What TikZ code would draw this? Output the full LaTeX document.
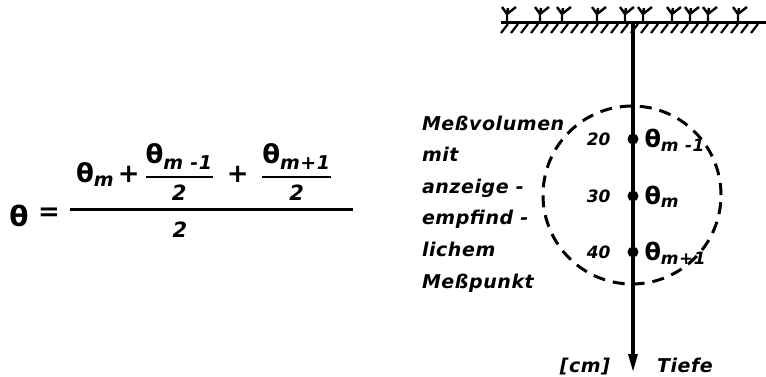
\documentclass[tikz,border=0pt]{standalone}
\usepackage{amsmath}
\usepackage{fontspec}
\setmainfont{DejaVu Sans}
\newfontfamily\labelfont[LetterSpace=3]{DejaVu Sans}
\usepackage{tikz}
\usetikzlibrary{arrows.meta, positioning}
\definecolor{ink}{RGB}{0, 0, 0}
\newcommand{\sublbl}[2]{\text{\labelfont\bfseries\itshape\fontsize{#1}{#1}\selectfont #2}}
\newcommand{\twolbl}{\text{\bfseries\itshape\fontsize{10.5}{12}\selectfont 2}}

\begin{document}
\begin{tikzpicture}[x=0.5pt, y=-0.5pt, every node/.style={inner sep=0pt, outer sep=0pt, text=ink},
  lbl/.style={font=\labelfont\bfseries\itshape\fontsize{9.5}{15.8}\selectfont},
  num/.style={font=\bfseries\itshape\fontsize{8.5}{10}\selectfont},
  sym/.style={font=\bfseries\fontsize{12}{14}\selectfont},
  dot/.style={circle, fill=ink, minimum size=5.5pt},
  plant/.style={line width=1.2pt, ink}]
\useasboundingbox (0,0) rectangle (766,376);
% Formula
\node[sym, font=\bfseries\fontsize{14}{16}\selectfont] (theta) at (19,216) {θ};
\node[sym, font=\bfseries\fontsize{13}{15}\selectfont] (eq) at (49,214) {=};
\node[sym, font=\bfseries\fontsize{13}{15}\selectfont, anchor=west] (numer) at (76,172) {$\text{θ}_{\sublbl{9.5}{m}}\hspace{-1pt}\mathbin{\text{+}}\hspace{-1pt}\genfrac{}{}{1.1pt}{0}{\text{θ}_{\sublbl{9.5}{m -1}}}{\twolbl}\hspace{3pt}\mathbin{\text{+}}\hspace{3pt}\genfrac{}{}{1.1pt}{0}{\text{θ}_{\sublbl{9.5}{m+1}}}{\twolbl}$};
\draw[line width=1.5pt, ink] (70,209) -- (353,209);
\node[sym, font=\bfseries\itshape\fontsize{10.5}{12}\selectfont] (denom) at (180,230) {2};
% Ground with plants
\coordinate (gl) at (501,22);
\coordinate (gr) at (766,22);
\draw[line width=1.5pt, ink] (gl) -- (gr);
\foreach \x in {501,511,...,755}
  \draw[line width=1.1pt, ink] (\x,33) -- ++(7,-9);
\foreach \x in {507,540,562,597,625,643,672,690,708,738}
  \draw[plant] (\x,21) -- (\x,14) -- (\x-5,7) (\x,14) -- (\x+1,8) (\x,14) -- (\x+9,7);
% Depth axis
\coordinate (top) at (633,22);
\coordinate (tip) at (633,372);
\draw[line width=1.6pt, ink, -{Triangle[length=9pt, width=4.5pt]}] (top) -- (tip);
% Measuring points
\node[dot] (p20) at (633,139) {};
\node[dot] (p30) at (633,196) {};
\node[dot] (p40) at (633,252) {};
\node[draw=ink, circle, line width=1.5pt, dash pattern=on 6pt off 4pt, minimum size=89pt] (vol) at (632,195) {};
\node[num, left=8.5pt of p20] (n20) {20};
\node[num, left=8.5pt of p30] (n30) {30};
\node[num, left=8.5pt of p40] (n40) {40};
\node[sym, anchor=base west] (t20) at ([xshift=3pt, yshift=-4pt]p20.east) {$\text{θ}_{\sublbl{8.5}{m -1}}$};
\node[sym, anchor=base west] (t30) at ([xshift=3pt, yshift=-4pt]p30.east) {$\text{θ}_{\sublbl{8.5}{m}}$};
\node[sym, anchor=base west] (t40) at ([xshift=3pt, yshift=-4pt]p40.east) {$\text{θ}_{\sublbl{8.5}{m+1}}$};
% Labels
\node[lbl, anchor=base west, align=left] (txt) at (422,288) {Meßvolumen\\mit\\anzeige -\\empfind -\\lichem\\Meßpunkt};
\node[lbl, anchor=base east] (unit) at ([xshift=-11.5pt]tip) {[cm]};
\node[lbl, anchor=base west] (depth) at ([xshift=12pt]tip) {Tiefe};
\end{tikzpicture}
\end{document}
